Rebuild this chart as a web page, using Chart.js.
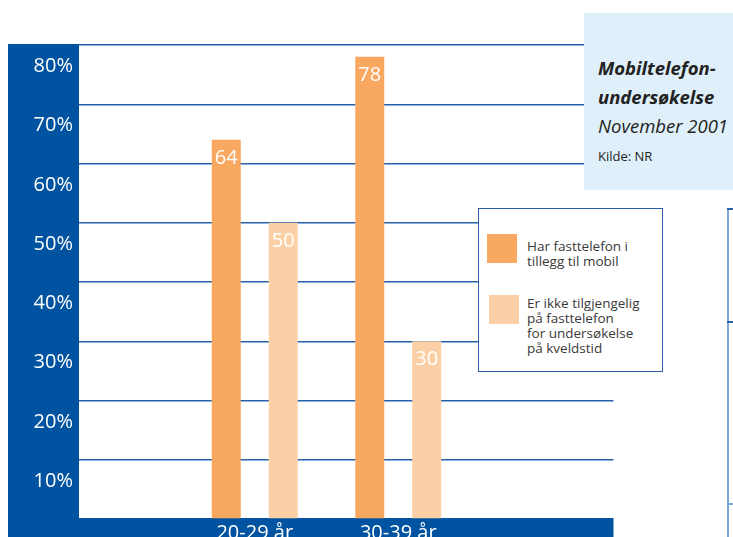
<!DOCTYPE html>
<html>
<head>
<meta charset="utf-8">
<script src="https://cdn.jsdelivr.net/npm/chart.js@4"></script>
<style>
    html, body { margin: 0; padding: 0; background: #fff; overflow: hidden; }
    #wrap { position: relative; width: 733px; height: 537px; font-family: 'Open Sans', sans-serif; }
    #wrap canvas { position: absolute; left: 0; top: 0; }
    .titlebox { position: absolute; left: 584px; top: 13px; width: 160px; height: 177px; background: #dff0fa; color: #222; }
    .titlebox .t { position: absolute; left: 14px; font-size: 18.5px; line-height: 22px; white-space: nowrap; font-style: italic; }
    .legend { position: absolute; left: 478px; top: 208px; width: 183px; height: 162px; background: #fff; border: 1.5px solid #2b5ea8; }
    .legend .sw { position: absolute; width: 30px; height: 29px; }
    .legend .txt { position: absolute; left: 48px; font-size: 13.5px; line-height: 15px; color: #3a3a3a; white-space: nowrap; }
    .axis2 { position: absolute; background: #7ea7d6; }
    .tick2 { position: absolute; height: 2px; background: #2a62ad; }
</style>
</head>
<body>
<div id="wrap">
    <canvas id="c" width="733" height="537"></canvas>
    <div class="titlebox">
        <div class="t" style="top:44px;font-weight:bold">Mobiltelefon-</div>
        <div class="t" style="top:73px;font-weight:bold">undersøkelse</div>
        <div class="t" style="top:102px">November 2001</div>
        <div class="t" style="top:135px;font-style:normal;font-size:13px;line-height:16px">Kilde: NR</div>
    </div>
    <div class="legend" id="legend"></div>
    <div class="axis2" style="left:727px;top:209px;width:2px;height:328px"></div>
    <div class="tick2" style="left:727px;top:208px;width:6px"></div>
    <div class="tick2" style="left:727px;top:321px;width:6px"></div>
    <div class="tick2" style="left:727px;top:503px;width:6px;background:#7ea7d6"></div>
</div>
<script>
// Verdier
const aldersgrupper = ['20-29 år', '30-39 år', ''];
const harFasttelefon = [64, 78, null];
const ikkeTilgjengelig = [50, 30, null];
const serieNavn = ['Har fasttelefon i\ntillegg til mobil', 'Er ikke tilgjengelig\npå fasttelefon\nfor undersøkelse\npå kveldstid'];

const COLORS = {
    orange: '#f9a862',
    light: '#fbd0a6',
    band: '#0053a0',
    grid: '#2660aa',
};
const FONT = { family: "'Open Sans', sans-serif", size: 20 };

// blå felt til venstre og nederst
const bandPlugin = {
    id: 'band',
    beforeDraw(chart) {
        const { ctx, chartArea } = chart;
        const y = chart.scales.y;
        const left = 8;
        const tickEnd = chartArea.left - y.options.grid.tickLength;
        ctx.save();
        ctx.fillStyle = COLORS.band;
        ctx.fillRect(left, y.getPixelForValue(80) - 1, tickEnd - left, chart.height);
        ctx.fillRect(left, y.getPixelForValue(0) - 1, chartArea.right - left, chart.height);
        ctx.restore();
    },
};

const verdiPlugin = {
    id: 'verdi',
    afterDatasetsDraw(chart) {
        const { ctx } = chart;
        ctx.save();
        ctx.fillStyle = '#fff';
        ctx.font = `${FONT.size}px ${FONT.family}`;
        ctx.textAlign = 'center';
        ctx.textBaseline = 'alphabetic';
        chart.data.datasets.forEach((ds, i) => {
            chart.getDatasetMeta(i).data.forEach((bar, j) => {
                if (ds.data[j] == null) return;
                ctx.fillText(String(ds.data[j]), bar.x, bar.y + 24);
            });
        });
        ctx.restore();
    },
};

new Chart(document.getElementById('c'), {
    type: 'bar',
    data: {
        labels: aldersgrupper,
        datasets: [
            { data: harFasttelefon, backgroundColor: COLORS.orange, barPercentage: 0.509, categoryPercentage: 0.794 },
            { data: ikkeTilgjengelig, backgroundColor: COLORS.light, barPercentage: 0.509, categoryPercentage: 0.794 },
        ],
    },
    options: {
        responsive: false,
        animation: false,
        layout: { padding: { top: 45, right: 119.5, left: 0, bottom: 0 } },
        plugins: { legend: { display: false }, tooltip: { enabled: false } },
        scales: {
            x: {
                grid: { display: false, drawTicks: false },
                border: { display: false },
                ticks: { color: '#fff', font: FONT, padding: 2, maxRotation: 0 },
                afterFit: (s) => { s.height = 18; },
            },
            y: {
                min: 0,
                max: 80,
                grid: {
                    color: (c) => (c.tick && c.tick.value === 0 ? 'rgba(0,0,0,0)' : COLORS.grid),
                    lineWidth: 1.5,
                    tickLength: 104,
                    drawTicks: true,
                },
                border: { display: false },
                ticks: {
                    stepSize: 10,
                    color: '#fff',
                    font: FONT,
                    padding: 6,
                    labelOffset: 21.5,
                    callback: (v) => (v === 0 ? '' : v + '%'),
                },
                afterFit: (s) => { s.width = 183; },
            },
        },
    },
    plugins: [bandPlugin, verdiPlugin],
});

// forklaring
const legendEl = document.getElementById('legend');
const swTop = [25, 86];
const txtTop = [30, 87];
legendEl.innerHTML = serieNavn.map((navn, i) => {
    const farge = i === 0 ? COLORS.orange : COLORS.light;
    return `<div class="sw" style="left:${8 + i * 2}px;top:${swTop[i]}px;background:${farge}"></div>`
        + `<div class="txt" style="top:${txtTop[i]}px">${navn.replace(/\n/g, '<br>')}</div>`;
}).join('');
</script>
</body>
</html>
